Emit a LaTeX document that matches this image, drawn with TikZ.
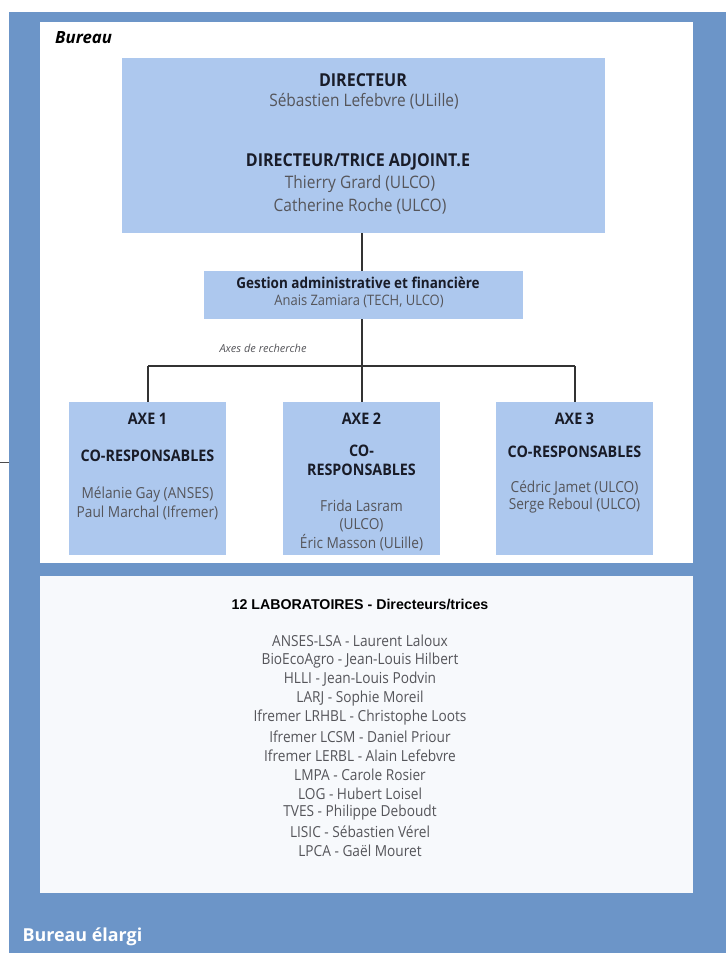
\documentclass[tikz,border=0pt]{standalone}
\usepackage{fontspec}
\setmainfont{Open Sans}[FakeStretch=0.9]
\newfontfamily\plainfont{Open Sans}
\newfontfamily\labfont{Liberation Sans}
\definecolor{frameblue}{RGB}{108,149,200}
\definecolor{boxblue}{RGB}{173,200,238}
\definecolor{panelgrey}{RGB}{247,249,252}
\definecolor{headtxt}{RGB}{25,28,40}
\definecolor{nametxt}{RGB}{85,85,90}
\tikzset{
  orgbox/.style={fill=boxblue,draw=none,inner sep=0pt},
  headtext/.style={font=\fontsize{15.9}{18}\selectfont\bfseries,text=headtxt,anchor=center},
  nametext/.style={font=\fontsize{15.2}{17}\selectfont,text=nametxt,anchor=center},
  link/.style={draw=black!80,line width=1.1pt},
}
\begin{document}
\begin{tikzpicture}[x=1pt,y=-1pt]
\useasboundingbox (0,0) rectangle (726,953);
\fill[white] (0,0) rectangle (726,953);
% outer frame
\fill[frameblue] (9,12) rectangle (726,953);
\fill[white] (40,22) rectangle (693,563);
\fill[panelgrey] (40,576) rectangle (693,893);
\node[anchor=west,inner sep=0pt,font=\plainfont\fontsize{16.8}{18}\selectfont\bfseries\itshape,text=black] (bureau) at (55,38) {Bureau};
\node[anchor=west,font=\plainfont\fontsize{17.9}{20}\selectfont\bfseries,text=white] (elargi) at (19,937) {Bureau élargi};
% boxes
\node[orgbox,minimum width=483pt,minimum height=175pt] (dir) at (363.5,145.5) {};
\node[orgbox,minimum width=319pt,minimum height=48pt] (gest) at (363.5,295) {};
\node[orgbox,minimum width=157pt,minimum height=153pt] (axe1) at (147.5,478.5) {};
\node[orgbox,minimum width=157pt,minimum height=153pt] (axe2) at (361.5,478.5) {};
\node[orgbox,minimum width=157pt,minimum height=153pt] (axe3) at (574.5,478.5) {};
% director text
\node[headtext,font=\fontsize{17.8}{20}\selectfont\bfseries] (t1) at (363,80) {DIRECTEUR};
\node[nametext,font=\fontsize{17.2}{20}\selectfont] (t2) at (364,101) {Sébastien Lefebvre (ULille)};
\node[headtext,font=\fontsize{17.8}{20}\selectfont\bfseries] (t3) at (358,162) {DIRECTEUR/TRICE ADJOINT.E};
\node[nametext,font=\fontsize{17.2}{20}\selectfont] (t4) at (360,184) {Thierry Grard (ULCO)};
\node[nametext,font=\fontsize{17.2}{20}\selectfont] (t5) at (360,206) {Catherine Roche (ULCO)};
% gestion
\node[headtext,font=\fontsize{15}{17}\selectfont\bfseries] (g1) at (358,283) {Gestion administrative et financière};
\node[nametext,font=\fontsize{14.4}{16}\selectfont] (g2) at (359,301) {Anais Zamiara (TECH, ULCO)};
% connectors
\coordinate (hl) at (148,366);
\coordinate (hr) at (575,366);
\coordinate (hm) at (362,366);
\draw[link] (dir.south -| hm) -- (gest.north -| hm);
\draw[link] (gest.south -| hm) -- (hm);
\draw[link] (hl) -- (hr);
\draw[link] (hl) -- (axe1.north -| hl);
\draw[link] (hm) -- (axe2.north -| hm);
\draw[link] (hr) -- (axe3.north -| hr);
\node[anchor=west,font=\plainfont\fontsize{11}{13}\selectfont\itshape,text=nametxt] (axes) at (216,348) {Axes de recherche};
% stub
\coordinate (stubl) at (0,462);
\coordinate (stubr) at (9,462);
\draw[black!70,line width=0.8pt] (stubl) -- (stubr);
% axe 1
\node[headtext] at (147.5,419) {AXE 1};
\node[headtext] at (147.5,456) {CO-RESPONSABLES};
\node[nametext] at (147.5,494) {Mélanie Gay (ANSES)};
\node[nametext] at (147.5,513) {Paul Marchal (Ifremer)};
% axe 2
\node[headtext] at (361.5,419) {AXE 2};
\node[headtext] at (361.5,451) {CO-};
\node[headtext] at (361.5,470) {RESPONSABLES};
\node[nametext] at (361.5,506) {Frida Lasram};
\node[nametext] at (361.5,525) {(ULCO)};
\node[nametext] at (361.5,543) {Éric Masson (ULille)};
% axe 3
\node[headtext] at (574.5,419) {AXE 3};
\node[headtext] at (574.5,452) {CO-RESPONSABLES};
\node[nametext] at (574.5,488) {Cédric Jamet (ULCO)};
\node[nametext] at (574.5,506) {Serge Reboul (ULCO)};
% labs
\node[font=\labfont\fontsize{14.2}{16}\selectfont\bfseries,text=black] (labt) at (360,604) {12 LABORATOIRES - Directeurs/trices};
\foreach \t [count=\i from 0] in {ANSES-LSA - Laurent Laloux,BioEcoAgro - Jean-Louis Hilbert,HLLI - Jean-Louis Podvin,LARJ - Sophie Moreil,Ifremer LRHBL - Christophe Loots,Ifremer LCSM - Daniel Priour,Ifremer LERBL - Alain Lefebvre,LMPA - Carole Rosier,LOG - Hubert Loisel,TVES - Philippe Deboudt,LISIC - Sébastien Vérel,LPCA - Gaël Mouret}
  \node[nametext] (lab\i) at (360,{641+19.1*\i}) {\t};
\end{tikzpicture}
\end{document}
